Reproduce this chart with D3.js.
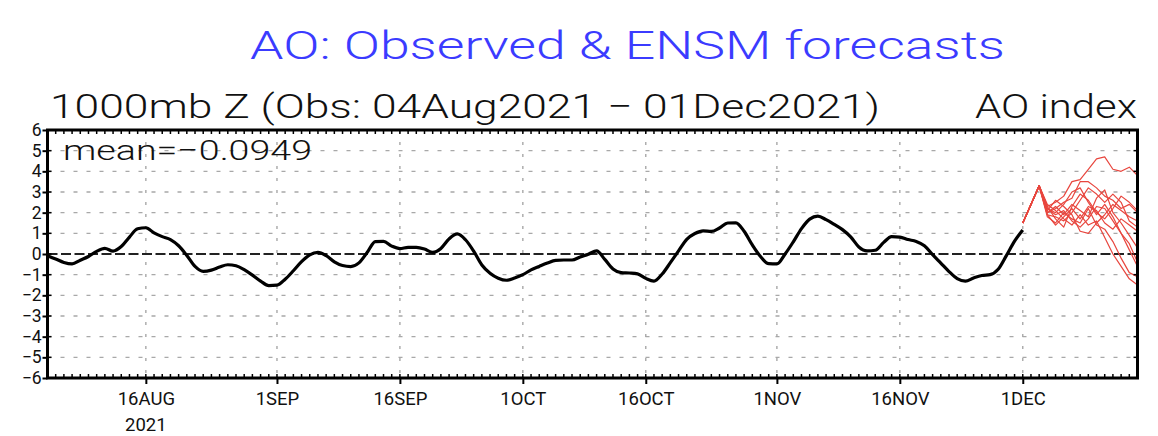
<!DOCTYPE html>
<html><head><meta charset="utf-8">
<script src="https://cdn.jsdelivr.net/npm/d3@7"></script>
<style>body{margin:0;background:#fff}svg{display:block}</style>
</head><body><svg id="c" width="1158" height="436"></svg>
<script>
// ---------- DATA ----------
const titleText = "AO: Observed & ENSM forecasts";
const subtitleText = "1000mb Z (Obs: 04Aug2021 \u2212 01Dec2021)";
const rightLabel = "AO index";
const meanLabel = "mean=\u22120.0949";

const axisStart = "2021-08-04";
const axisEnd = "2021-12-15";

const obsStart = "2021-08-04";
const obsValues = [
 -0.08,-0.24,-0.41,-0.48,-0.30,-0.12, 0.13, 0.27, 0.14, 0.36,
  0.82, 1.22, 1.27, 1.02, 0.84, 0.70, 0.40,-0.07,-0.60,-0.84,
 -0.78,-0.63,-0.52,-0.57,-0.76,-1.02,-1.31,-1.53,-1.51,-1.22,
 -0.81,-0.37,-0.04, 0.08,-0.08,-0.38,-0.56,-0.61,-0.43, 0.07,
  0.60, 0.61, 0.38, 0.26, 0.32, 0.32, 0.24, 0.08, 0.27, 0.73,
  0.97, 0.69, 0.14,-0.53,-0.93,-1.17,-1.27,-1.16,-1.00,-0.77,
 -0.60,-0.44,-0.31,-0.29,-0.29,-0.14,-0.01, 0.15,-0.26,-0.72,
 -0.90,-0.92,-0.96,-1.18,-1.31,-0.97,-0.42, 0.15, 0.71, 0.99,
  1.12, 1.09, 1.26, 1.50, 1.51, 1.10, 0.44,-0.12,-0.47,-0.48,
  0.00, 0.59, 1.23, 1.69, 1.83, 1.66, 1.43, 1.18, 0.83, 0.34,
  0.15, 0.18, 0.55, 0.84, 0.82, 0.70, 0.61, 0.40,-0.03,-0.44,
 -0.85,-1.19,-1.31,-1.16,-1.04,-1.00,-0.74,-0.08, 0.62, 1.16
];

const fcStart = "2021-12-01";
const member01 = [1.5,2.4,3.3,2.3,2.5,2.8,3.5,3.6,4.1,4.6,4.7,4.1,4.0,4.2,3.8];
const member02 = [1.5,2.4,3.3,2.0,2.2,2.5,2.7,3.5,3.5,3.2,2.8,2.6,2.2,2.4,2.0];
const member03 = [1.5,2.4,3.3,1.9,1.8,1.6,2.0,2.6,3.2,2.9,2.5,2.9,2.5,1.6,1.3];
const member04 = [1.5,2.4,3.3,2.2,1.9,2.1,1.6,1.3,1.7,2.3,2.2,1.6,1.0,0.5,-0.4];
const member05 = [1.5,2.4,3.3,2.4,2.1,1.7,1.4,1.9,1.4,1.6,0.8,0.0,-0.6,-1.2,-1.5];
const member06 = [1.5,2.4,3.3,2.1,2.6,2.3,1.9,1.1,1.0,1.5,1.9,2.4,2.1,1.8,1.6];
const member07 = [1.5,2.4,3.3,1.8,1.5,2.0,1.7,1.5,2.2,1.4,1.2,0.6,-0.2,-0.9,-1.1];
const member08 = [1.5,2.4,3.3,2.3,1.7,1.3,2.3,2.9,2.6,2.0,1.7,2.2,2.8,2.5,2.1];
const member09 = [1.5,2.4,3.3,2.0,2.3,1.9,2.4,2.1,1.8,2.7,3.1,2.0,1.5,0.9,0.3];
const member10 = [1.5,2.4,3.3,1.9,1.4,1.8,2.2,1.7,2.3,2.1,1.5,1.2,1.7,1.4,1.1];
const member11 = [1.5,2.4,3.3,2.2,2.0,2.4,3.0,3.2,2.5,1.9,2.4,1.8,1.0,0.2,-0.6];
const members = [member01,member02,member03,member04,member05,member06,
                 member07,member08,member09,member10,member11];

const xTickDates  = ["2021-08-16","2021-09-01","2021-09-16","2021-10-01",
                     "2021-10-16","2021-11-01","2021-11-16","2021-12-01"];
const xTickLabels = ["16AUG","1SEP","16SEP","1OCT","16OCT","1NOV","16NOV","1DEC"];
const yearLabel = "2021";
const yTickValues = [6,5,4,3,2,1,0,-1,-2,-3,-4,-5,-6];

// ---------- DRAW ----------
const parse = d3.timeParse("%Y-%m-%d");
const svg = d3.select("#c");
const L = 47.5, R = 1137.5, T = 130, B = 378;
const FONT = "Roboto, 'Liberation Sans', Arial, sans-serif";
const FW = 300;

const x = d3.scaleTime().domain([parse(axisStart), parse(axisEnd)]).range([L, R]);
const y = d3.scaleLinear().domain([-6, 6]).range([B, T]);

// horizontal grid
svg.append("g").selectAll("line")
  .data(yTickValues.filter(v => v !== 0 && Math.abs(v) < 6))
  .join("line")
  .attr("x1", L).attr("x2", R)
  .attr("y1", d => y(d)).attr("y2", d => y(d))
  .attr("stroke", "#a8a8a8").attr("stroke-width", 1.4)
  .attr("stroke-dasharray", "4,9");

// vertical grid
svg.append("g").selectAll("line")
  .data(xTickDates.map(parse))
  .join("line")
  .attr("x1", d => x(d)).attr("x2", d => x(d))
  .attr("y1", T).attr("y2", B)
  .attr("stroke", "#a8a8a8").attr("stroke-width", 1.4)
  .attr("stroke-dasharray", "3,9");

// zero line
svg.append("line")
  .attr("x1", L).attr("x2", R).attr("y1", y(0)).attr("y2", y(0))
  .attr("stroke", "#222").attr("stroke-width", 2.2)
  .attr("stroke-dasharray", "10,3.5");

// forecasts
const fc0 = parse(fcStart);
const lineGen = d3.line().x(d => x(d[0])).y(d => y(d[1]));
svg.append("g").selectAll("path")
  .data(members.map(m => m.map((v, i) => [d3.timeDay.offset(fc0, i), v])))
  .join("path")
  .attr("d", lineGen)
  .attr("fill", "none").attr("stroke", "#e8463e").attr("stroke-width", 1.2)
  .attr("stroke-linejoin", "round");

// observed
const ob0 = parse(obsStart);
svg.append("path")
  .datum(obsValues.map((v, i) => [d3.timeDay.offset(ob0, i), v]))
  .attr("d", d3.line().curve(d3.curveMonotoneX).x(d => x(d[0])).y(d => y(d[1])))
  .attr("fill", "none").attr("stroke", "#000").attr("stroke-width", 3.2)
  .attr("stroke-linejoin", "round");

// frame
svg.append("rect").attr("x", L).attr("y", T).attr("width", R - L).attr("height", B - T)
  .attr("fill", "none").attr("stroke", "#000").attr("stroke-width", 3);

// minor daily ticks (inward) top and bottom
const days = d3.timeDay.range(parse(axisStart), parse(axisEnd));
const mt = svg.append("g");
mt.selectAll("line.b").data(days).join("line").attr("class","b")
  .attr("x1", d => x(d)).attr("x2", d => x(d)).attr("y1", B).attr("y2", B - 4)
  .attr("stroke", "#000").attr("stroke-width", 1.5);
mt.selectAll("line.t").data(days).join("line").attr("class","t")
  .attr("x1", d => x(d)).attr("x2", d => x(d)).attr("y1", T).attr("y2", T + 4)
  .attr("stroke", "#000").attr("stroke-width", 1.5);

// bottom axis (major ticks outward + labels)
const xAxis = d3.axisBottom(x)
  .tickValues(xTickDates.map(parse))
  .tickFormat((d, i) => xTickLabels[i])
  .tickSize(6).tickPadding(8);
const gx = svg.append("g").attr("transform", `translate(0,${B})`).call(xAxis);
gx.select(".domain").remove();
gx.selectAll(".tick line").attr("stroke", "#000").attr("stroke-width", 2);
gx.selectAll(".tick text").attr("font-family", FONT).attr("font-weight", 400)
  .attr("font-size", 18.5).attr("fill", "#111");
svg.append("text").attr("x", x(parse(xTickDates[0]))).attr("y", 431)
  .attr("text-anchor", "middle").attr("font-family", FONT).attr("font-weight", 400)
  .attr("font-size", 18.5).attr("fill", "#111").text(yearLabel);

// left axis
const yAxis = d3.axisLeft(y).tickValues(yTickValues)
  .tickFormat(d => d < 0 ? "\u2212" + Math.abs(d) : String(d))
  .tickSize(5).tickPadding(1);
const gy = svg.append("g").attr("transform", `translate(${L},0)`).call(yAxis);
gy.select(".domain").remove();
gy.selectAll(".tick line").attr("stroke", "#000").attr("stroke-width", 2);
gy.selectAll(".tick text").attr("font-family", FONT).attr("font-weight", 400)
  .attr("font-size", 17.5).attr("fill", "#111");

// inner y ticks, both sides
svg.append("g").selectAll("line").data(yTickValues).join("line")
  .attr("x1", R).attr("x2", R - 4).attr("y1", d => y(d)).attr("y2", d => y(d))
  .attr("stroke", "#000").attr("stroke-width", 1.5);
svg.append("g").selectAll("line").data(yTickValues).join("line")
  .attr("x1", L).attr("x2", L + 4).attr("y1", d => y(d)).attr("y2", d => y(d))
  .attr("stroke", "#000").attr("stroke-width", 1.5);

// texts
svg.append("text").attr("x", 250).attr("y", 59).attr("font-family", FONT)
  .attr("font-weight", FW).attr("font-size", 38).attr("fill", "#3b3bff")
  .attr("textLength", 755).attr("lengthAdjust", "spacingAndGlyphs").text(titleText);
svg.append("text").attr("x", 50).attr("y", 118).attr("font-family", FONT)
  .attr("font-weight", FW).attr("font-size", 34).attr("fill", "#111")
  .attr("textLength", 830).attr("lengthAdjust", "spacingAndGlyphs").text(subtitleText);
svg.append("text").attr("x", 975).attr("y", 118).attr("font-family", FONT)
  .attr("font-weight", FW).attr("font-size", 34).attr("fill", "#111")
  .attr("textLength", 162).attr("lengthAdjust", "spacingAndGlyphs").text(rightLabel);
svg.append("text").attr("x", 63).attr("y", 160).attr("font-family", FONT)
  .attr("font-weight", FW).attr("font-size", 28).attr("fill", "#111")
  .attr("textLength", 249).attr("lengthAdjust", "spacingAndGlyphs").text(meanLabel);
</script>
</body></html>
